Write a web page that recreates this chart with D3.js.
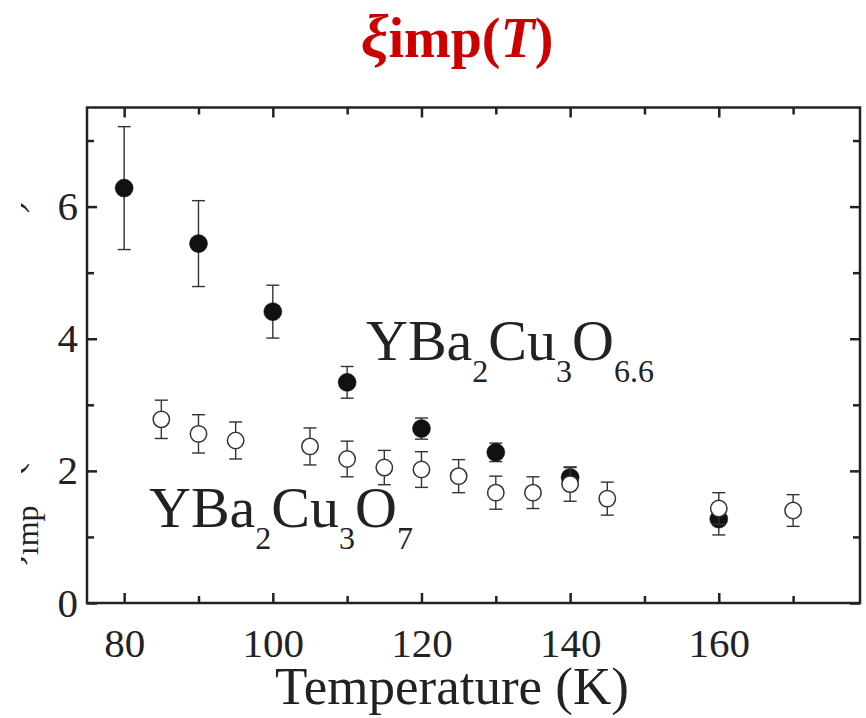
<!DOCTYPE html>
<html><head><meta charset="utf-8">
<script src="https://cdn.jsdelivr.net/npm/d3@7"></script>
<style>body{margin:0;background:#fff;} svg{display:block}</style>
</head><body>
<svg id="c" width="866" height="718"></svg>
<script>
// YBa2Cu3O6.6 (filled circles)
const temps66 = [80, 90, 100, 110, 120, 130, 140, 160];
const xi66    = [6.28, 5.44, 4.41, 3.34, 2.64, 2.28, 1.90, 1.27];
const err66   = [0.93, 0.65, 0.40, 0.24, 0.16, 0.14, 0.15, 0.24];
// YBa2Cu3O7 (open circles)
const temps7 = [85, 90, 95, 105, 110, 115, 120, 125, 130, 135, 140, 145, 160, 170];
const xi7    = [2.78, 2.56, 2.46, 2.37, 2.18, 2.05, 2.02, 1.92, 1.67, 1.67, 1.80, 1.58, 1.43, 1.40];
const err7   = [0.29, 0.29, 0.28, 0.28, 0.27, 0.26, 0.27, 0.25, 0.25, 0.24, 0.26, 0.25, 0.24, 0.24];
// ticks
const xMajor = [80, 100, 120, 140, 160];
const xMinor = [90, 110, 130, 150, 170];
const yMajor = [0, 2, 4, 6];
const yMinor = [1, 3, 5, 7];

const W = 866, H = 718;
const m = {left: 87, right: 6, top: 107.5, bottom: 115};
const serif = '"Liberation Serif","Times New Roman",Times,serif';
const ink = "#222";

const svg = d3.select("#c");
const x = d3.scaleLinear().domain([75, 179]).range([m.left, W - m.right]);
const y = d3.scaleLinear().domain([0, 7.5]).range([H - m.bottom, m.top]);

// title
const title = svg.append("text")
  .attr("x", 457).attr("y", 57)
  .attr("text-anchor", "middle")
  .attr("fill", "#cc0000")
  .attr("font-family", serif)
  .attr("font-weight", "bold")
  .attr("font-size", 56);
title.append("tspan").attr("font-style", "italic").attr("font-size", 62).text("ξ");
title.append("tspan").text("imp(");
title.append("tspan").attr("font-style", "italic").text("T");
title.append("tspan").text(")");

// axes
function styleAxis(g) {
  g.select(".domain").remove();
  g.selectAll("line").attr("stroke", ink).attr("stroke-width", 2.5);
  g.selectAll("text").attr("font-family", serif).attr("font-size", 41).attr("fill", ink);
}
const bottomY = H - m.bottom, topY = m.top, leftX = m.left, rightX = W - m.right;

svg.append("g").attr("transform", `translate(0,${bottomY})`)
  .call(d3.axisBottom(x).tickValues(xMajor).tickSize(-10).tickPadding(25).tickFormat(d3.format("d"))).call(styleAxis);
svg.append("g").attr("transform", `translate(0,${bottomY})`)
  .call(d3.axisBottom(x).tickValues(xMinor).tickSize(-7).tickFormat("")).call(styleAxis);
svg.append("g").attr("transform", `translate(0,${topY})`)
  .call(d3.axisTop(x).tickValues(xMajor).tickSize(-10).tickFormat("")).call(styleAxis);
svg.append("g").attr("transform", `translate(0,${topY})`)
  .call(d3.axisTop(x).tickValues(xMinor).tickSize(-7).tickFormat("")).call(styleAxis);
svg.append("g").attr("transform", `translate(${leftX},0)`)
  .call(d3.axisLeft(y).tickValues(yMajor).tickSize(-10).tickPadding(9).tickFormat(d3.format("d"))).call(styleAxis);
svg.append("g").attr("transform", `translate(${leftX},0)`)
  .call(d3.axisLeft(y).tickValues(yMinor).tickSize(-7).tickFormat("")).call(styleAxis);
svg.append("g").attr("transform", `translate(${rightX},0)`)
  .call(d3.axisRight(y).tickValues(yMajor).tickSize(-10).tickFormat("")).call(styleAxis);
svg.append("g").attr("transform", `translate(${rightX},0)`)
  .call(d3.axisRight(y).tickValues(yMinor).tickSize(-7).tickFormat("")).call(styleAxis);

// frame
svg.append("rect")
  .attr("x", leftX).attr("y", topY)
  .attr("width", rightX - leftX).attr("height", bottomY - topY)
  .attr("fill", "none").attr("stroke", ink).attr("stroke-width", 2.5);

// axis titles
svg.append("text")
  .attr("x", 452).attr("y", 704)
  .attr("text-anchor", "middle")
  .attr("font-family", serif).attr("font-size", 53).attr("fill", ink)
  .text("Temperature (K)");

svg.append("clipPath").attr("id", "ylabclip")
  .append("rect").attr("x", 21).attr("y", 0).attr("width", 60).attr("height", H);
const ylab = svg.append("g").attr("clip-path", "url(#ylabclip)")
  .append("text")
  .attr("transform", "translate(20,574) rotate(-90)")
  .attr("font-family", serif).attr("font-size", 44).attr("fill", ink)
  .attr("xml:space", "preserve").style("white-space", "pre");
ylab.append("tspan").attr("font-style", "italic").text("ξ");
ylab.append("tspan").attr("font-size", 32).attr("dy", 18).text("imp");
ylab.append("tspan").attr("dy", -18).attr("dx", 6).text("  (in lattice units)");

// data series
function series(temps, vals, errs, filled) {
  const data = temps.map((t, i) => ({t, v: vals[i], e: errs[i]}));
  const g = svg.append("g");
  const eb = g.selectAll("g.eb").data(data).join("g")
    .attr("stroke", "#333").attr("stroke-width", 1.4);
  eb.append("line")
    .attr("x1", d => x(d.t)).attr("x2", d => x(d.t))
    .attr("y1", d => y(d.v + d.e)).attr("y2", d => y(d.v - d.e));
  eb.append("line")
    .attr("x1", d => x(d.t) - 6.5).attr("x2", d => x(d.t) + 6.5)
    .attr("y1", d => y(d.v + d.e)).attr("y2", d => y(d.v + d.e));
  eb.append("line")
    .attr("x1", d => x(d.t) - 6.5).attr("x2", d => x(d.t) + 6.5)
    .attr("y1", d => y(d.v - d.e)).attr("y2", d => y(d.v - d.e));
  g.selectAll("circle").data(data).join("circle")
    .attr("cx", d => x(d.t)).attr("cy", d => y(d.v))
    .attr("r", filled ? 9 : 8.2)
    .attr("fill", filled ? "#111" : "#fff")
    .attr("stroke", filled ? "#111" : "#333")
    .attr("stroke-width", filled ? 0.5 : 1.5);
}
series(temps66, xi66, err66, true);
series(temps7, xi7, err7, false);

// compound labels
function formula(xp, yp, parts) {
  const t = svg.append("text").attr("x", xp).attr("y", yp)
    .attr("font-family", serif).attr("font-size", 58).attr("fill", ink);
  let prevSub = false;
  parts.forEach(([s, sub]) => {
    const ts = t.append("tspan").text(s);
    if (sub) ts.attr("font-size", 32);
    if (sub && !prevSub) ts.attr("dy", 22);
    else if (!sub && prevSub) ts.attr("dy", -22);
    prevSub = sub;
  });
}
formula(366, 360, [["YBa", false], ["2", true], ["Cu", false], ["3", true], ["O", false], ["6.6", true]]);
formula(149, 527, [["YBa", false], ["2", true], ["Cu", false], ["3", true], ["O", false], ["7", true]]);
</script>
</body></html>
